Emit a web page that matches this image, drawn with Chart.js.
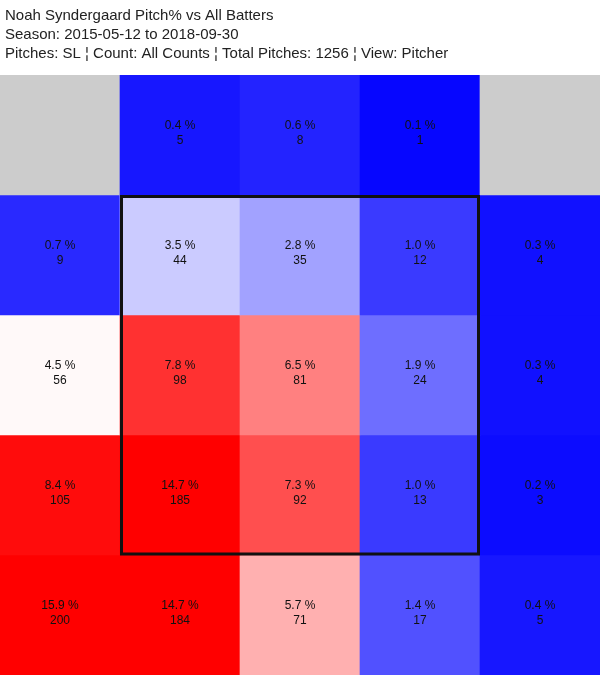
<!DOCTYPE html>
<html>
<head>
<meta charset="utf-8">
<script src="https://cdn.jsdelivr.net/npm/chart.js@4.4.1/dist/chart.umd.min.js"></script>
<style>
  body { margin: 0; background: #fff; }
  #wrap { width: 600px; height: 675px; position: relative; }
</style>
</head>
<body>
<div id="wrap"><canvas id="zoneChart"></canvas></div>
<script>
// заголовок
const titleLines = [
    'Noah Syndergaard Pitch% vs All Batters',
    'Season: 2015-05-12 to 2018-09-30',
    'Pitches: SL \u00a6 Count: All Counts \u00a6 Total Pitches: 1256 \u00a6 View: Pitcher'
];

// колонки зон (слева направо)
const zoneCols = ['A', 'B', 'C', 'D', 'E'];

// проценты по рядам (сверху вниз), null = нет данных
const pctRow1 = [null, 0.4, 0.6, 0.1, null];
const pctRow2 = [0.7, 3.5, 2.8, 1.0, 0.3];
const pctRow3 = [4.5, 7.8, 6.5, 1.9, 0.3];
const pctRow4 = [8.4, 14.7, 7.3, 1.0, 0.2];
const pctRow5 = [15.9, 14.7, 5.7, 1.4, 0.4];

// количество подач по рядам
const cntRow1 = [null, 5, 8, 1, null];
const cntRow2 = [9, 44, 35, 12, 4];
const cntRow3 = [56, 98, 81, 24, 4];
const cntRow4 = [105, 185, 92, 13, 3];
const cntRow5 = [200, 184, 71, 17, 5];

// зона страйка: колонки и ряды (индексы)
const strikeCols = [1, 3];
const strikeRows = [1, 3];

const pctRows = [pctRow1, pctRow2, pctRow3, pctRow4, pctRow5];
const cntRows = [cntRow1, cntRow2, cntRow3, cntRow4, cntRow5];

const WHITE_AT = 4.4;
const RED_AT = 8.6;

// цвет ячейки по проценту
function ZoneColor(p){
    if (p == null) return '#cccccc';
    if (p <= WHITE_AT) {
        var g = Math.round(255 * Math.max(0, p) / WHITE_AT);
        return `rgb(${g},${g},255)`;
    }
    var t = Math.min(1, (p - WHITE_AT) / (RED_AT - WHITE_AT));
    var r = Math.round(255 * (1 - t));
    return `rgb(255,${r},${r})`;
}

// подписи в ячейках
const cellLabels = {
    id: 'cellLabels',
    afterDatasetsDraw(chart){
        const ctx = chart.ctx;
        ctx.save();
        ctx.font = '12px Arial, "Liberation Sans", sans-serif';
        ctx.fillStyle = '#111';
        ctx.textAlign = 'center';
        ctx.textBaseline = 'middle';
        pctRows.forEach(function(row, i){
            const meta = chart.getDatasetMeta(i);
            row.forEach(function(p, j){
                if (p == null) return;
                const el = meta.data[j];
                const cy = (el.y + el.base) / 2;
                ctx.fillText(p.toFixed(1) + ' %', el.x, cy - 9.5);
                ctx.fillText(String(cntRows[i][j]), el.x, cy + 6);
            });
        });
        ctx.restore();
    }
};

// рамка зоны страйка
const strikeBox = {
    id: 'strikeBox',
    afterDatasetsDraw(chart){
        const a = chart.getDatasetMeta(strikeRows[0]).data[strikeCols[0]];
        const b = chart.getDatasetMeta(strikeRows[1]).data[strikeCols[1]];
        const left = a.x - a.width / 2;
        const top = Math.min(a.y, a.base);
        const right = b.x + b.width / 2;
        const bottom = Math.max(b.y, b.base);
        const ctx = chart.ctx;
        ctx.save();
        ctx.strokeStyle = '#111';
        ctx.lineWidth = 3;
        ctx.strokeRect(left + 1.5, top + 1.5, right - left - 3, bottom - top - 2.5);
        ctx.restore();
    }
};

// заголовок слева
const leftTitle = {
    id: 'leftTitle',
    afterDraw(chart){
        const ctx = chart.ctx;
        ctx.save();
        ctx.font = '15px Arial, "Liberation Sans", sans-serif';
        ctx.fillStyle = '#222';
        ctx.textAlign = 'left';
        ctx.textBaseline = 'middle';
        titleLines.forEach(function(line, i){
            ctx.fillText(line, 5, 15.5 + i * 19);
        });
        ctx.restore();
    }
};

const datasets = pctRows.map(function(row, i){
    return {
        label: 'row' + (i + 1),
        data: row.map(function(){ return 1; }),
        backgroundColor: row.map(ZoneColor),
        borderWidth: 0,
        barPercentage: 1,
        categoryPercentage: 1
    };
});

new Chart(document.getElementById('zoneChart'), {
    type: 'bar',
    data: { labels: zoneCols, datasets: datasets },
    options: {
        responsive: true,
        maintainAspectRatio: false,
        animation: false,
        layout: { padding: { top: 75, left: 0, right: 0, bottom: 0 } },
        plugins: {
            legend: { display: false },
            tooltip: { enabled: false },
            title: { display: false }
        },
        scales: {
            x: { stacked: true, display: false },
            y: { stacked: true, display: false, reverse: true, min: 0, max: 5 }
        }
    },
    plugins: [cellLabels, strikeBox, leftTitle]
});
</script>
</body>
</html>
